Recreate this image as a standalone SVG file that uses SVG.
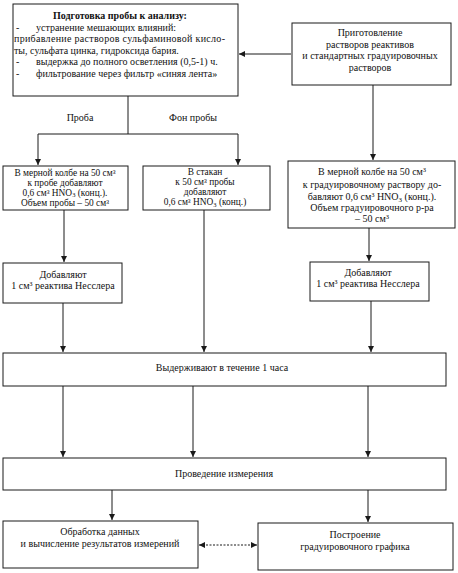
<svg xmlns="http://www.w3.org/2000/svg" width="458" height="573" viewBox="0 0 458 573">
<style>
  .box { fill: #fff; stroke: #1a1a1a; stroke-width: 1; }
  text { font-family: "Liberation Serif", "Times New Roman", serif; font-size: 10px; fill: #111; }
  .c { text-anchor: middle; }
  .b { font-weight: bold; }
  .s { font-size: 9.4px; }
  .ln { fill: none; stroke: #1a1a1a; stroke-width: 1; }
  .dash { fill: none; stroke: #1a1a1a; stroke-width: 1; stroke-dasharray: 2 1.5; }
</style>
<defs>
  <marker id="ah" viewBox="0 0 8 8" refX="8" refY="4" markerWidth="6" markerHeight="6" markerUnits="userSpaceOnUse" orient="auto">
    <path d="M0,0 L8,4 L0,8 z" fill="#1a1a1a"/>
  </marker>
  <marker id="ahs" viewBox="0 0 8 8" refX="0" refY="4" markerWidth="6" markerHeight="6" markerUnits="userSpaceOnUse" orient="auto">
    <path d="M8,0 L0,4 L8,8 z" fill="#1a1a1a"/>
  </marker>
</defs>
<rect width="458" height="573" fill="#fff"/>

<g id="connectors">
  <line class="ln" x1="291" y1="54" x2="239" y2="54" marker-end="url(#ah)"/>
  <polyline class="ln" points="128,96 128,134"/>
  <line class="ln" x1="38" y1="134" x2="238" y2="134"/>
  <line class="ln" x1="38" y1="134" x2="38" y2="165" marker-end="url(#ah)"/>
  <line class="ln" x1="238" y1="134" x2="238" y2="165" marker-end="url(#ah)"/>
  <line class="ln" x1="373" y1="85" x2="373" y2="160" marker-end="url(#ah)"/>
  <line class="ln" x1="64" y1="210" x2="64" y2="262" marker-end="url(#ah)"/>
  <line class="ln" x1="369" y1="228" x2="369" y2="261" marker-end="url(#ah)"/>
  <line class="ln" x1="63" y1="303" x2="63" y2="352" marker-end="url(#ah)"/>
  <line class="ln" x1="204" y1="210" x2="204" y2="352" marker-end="url(#ah)"/>
  <line class="ln" x1="371" y1="301" x2="371" y2="352" marker-end="url(#ah)"/>
  <line class="ln" x1="63" y1="386" x2="63" y2="457" marker-end="url(#ah)"/>
  <line class="ln" x1="193" y1="386" x2="193" y2="457" marker-end="url(#ah)"/>
  <line class="ln" x1="368" y1="386" x2="368" y2="457" marker-end="url(#ah)"/>
  <line class="ln" x1="112" y1="490" x2="112" y2="520" marker-end="url(#ah)"/>
  <line class="ln" x1="368" y1="490" x2="368" y2="522" marker-end="url(#ah)"/>
  <line class="dash" x1="199" y1="545" x2="257" y2="545" marker-start="url(#ahs)" marker-end="url(#ah)"/>
  <text class="c" x="80" y="121">Проба</text>
  <text class="c" x="193" y="121">Фон пробы</text>
</g>

<g id="prep">
  <rect class="box" x="13" y="4" width="225" height="92"/>
  <text class="c b" x="120" y="19">Подготовка пробы к анализу:</text>
  <text x="16" y="30.5">-</text>
  <text x="36" y="30.5">устранение мешающих влияний:</text>
  <text x="14" y="42" textLength="211" lengthAdjust="spacing">прибавление растворов сульфаминовой кисло-</text>
  <text x="14" y="53.5">ты, сульфата цинка, гидроксида бария.</text>
  <text x="16" y="65">-</text>
  <text x="36" y="65">выдержка до полного осветления (0,5-1) ч.</text>
  <text x="16" y="76.5">-</text>
  <text x="36" y="76.5">фильтрование через фильтр «синяя лента»</text>
</g>

<g id="reagents">
  <rect class="box" x="292" y="23" width="159" height="62"/>
  <text class="c" x="370" y="36">Приготовление</text>
  <text class="c" x="370" y="47.5">растворов реактивов</text>
  <text class="c" x="370" y="59">и стандартных градуировочных</text>
  <text class="c" x="370" y="70.5">растворов</text>
</g>

<g id="sample">
  <rect class="box" x="3" y="166" width="125" height="44"/>
  <text class="c s" x="65" y="175.5">В мерной колбе на 50 см³</text>
  <text class="c s" x="65" y="185.5">к пробе добавляют</text>
  <text class="c s" x="65" y="195.5">0,6 см³ HNO<tspan font-size="6.5" dy="1.5">3</tspan><tspan dy="-1.5"> (конц.).</tspan></text>
  <text class="c s" x="65" y="205.5">Объем пробы – 50 см³</text>
</g>

<g id="background">
  <rect class="box" x="143" y="166" width="127" height="44"/>
  <text class="c s" x="205" y="175">В стакан</text>
  <text class="c s" x="205" y="185">к 50 см³ пробы</text>
  <text class="c s" x="205" y="195">добавляют</text>
  <text class="c s" x="205" y="205">0,6 см³ HNO<tspan font-size="6.5" dy="1.5">3</tspan><tspan dy="-1.5"> (конц.)</tspan></text>
</g>

<g id="calib">
  <rect class="box" x="288" y="161" width="167" height="67"/>
  <text class="c" x="372" y="175">В мерной колбе на 50 см³</text>
  <text class="c" x="372" y="187.5">к градуировочному раствору до-</text>
  <text class="c" x="372" y="200">бавляют 0,6 см³ HNO<tspan font-size="7" dy="1.5">3</tspan><tspan dy="-1.5"> (конц.).</tspan></text>
  <text class="c" x="372" y="211">Объем градуировочного р-ра</text>
  <text class="c" x="372" y="221.5">– 50 см³</text>
</g>

<g id="nessler1">
  <rect class="box" x="3" y="263" width="119" height="40"/>
  <text class="c" x="63" y="278">Добавляют</text>
  <text class="c" x="63" y="289">1 см³ реактива Несслера</text>
</g>

<g id="nessler2">
  <rect class="box" x="310" y="262" width="119" height="39"/>
  <text class="c" x="368" y="276">Добавляют</text>
  <text class="c" x="368" y="287">1 см³ реактива Несслера</text>
</g>

<g id="hold">
  <rect class="box" x="3" y="353" width="443" height="33"/>
  <text class="c" x="222" y="371">Выдерживают в течение 1 часа</text>
</g>

<g id="measure">
  <rect class="box" x="3" y="458" width="443" height="32"/>
  <text class="c" x="224" y="477">Проведение измерения</text>
</g>

<g id="processing">
  <rect class="box" x="3" y="521" width="195" height="47"/>
  <text class="c" x="100" y="535">Обработка данных</text>
  <text class="c" x="100" y="547">и вычисление результатов измерений</text>
</g>

<g id="graph">
  <rect class="box" x="258" y="523" width="195" height="47"/>
  <text class="c" x="355" y="538">Построение</text>
  <text class="c" x="355" y="550">градуировочного графика</text>
</g>
</svg>
